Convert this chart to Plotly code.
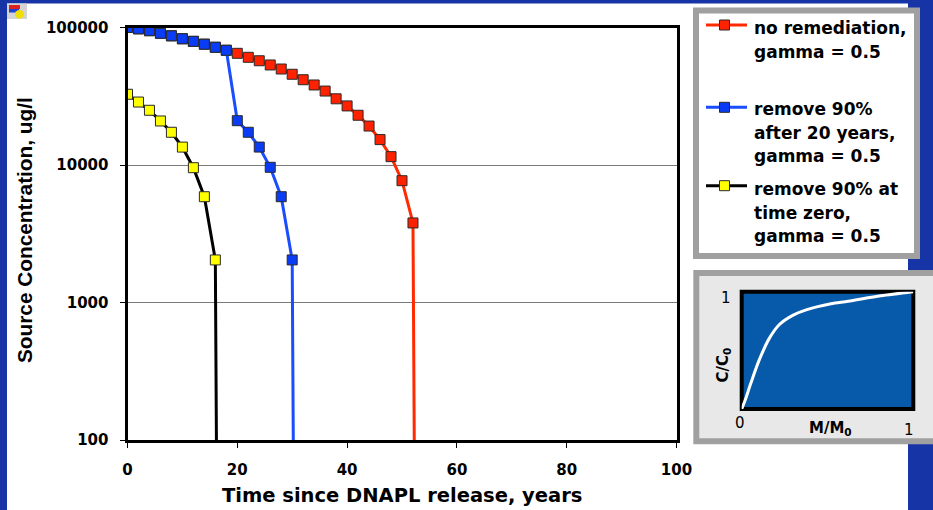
import plotly.graph_objects as go

W, H = 933, 510

# ---------------- data ----------------
years_no_rem = [0, 2, 4, 6, 8, 10, 12, 14, 16, 18, 20, 22, 24, 26, 28, 30, 32, 34,
                36, 38, 40, 42, 44, 46, 48, 50, 52, 54]
conc_no_rem = [100000, 97800, 94800, 90800, 87000, 82800, 79300, 75600, 71800, 68300,
               64900, 60700, 57300, 53400, 49900, 45700, 41700, 38200, 34500, 30300,
               26900, 23000, 19200, 15300, 11500, 7690, 3790, 1e-10]

years_rem20 = [0, 2, 4, 6, 8, 10, 12, 14, 16, 18, 20, 22, 24, 26, 28, 30, 32]
conc_rem20 = [100000, 97800, 94800, 90800, 87000, 82800, 79300, 75600, 71800, 68300,
              21000, 17300, 13500, 9620, 5880, 2040, 1e-10]

years_rem0 = [0, 2, 4, 6, 8, 10, 12, 14, 16, 18]
conc_rem0 = [32700, 28700, 25000, 20900, 17300, 13500, 9560, 5880, 2040, 1e-10]

x_ticks = [0, 20, 40, 60, 80, 100]
y_ticks = [100, 1000, 10000, 100000]
y_ticktext = ["100", "1000", "10000", "100000"]

legend_labels = [["no remediation,", "gamma = 0.5"],
                 ["remove 90%", "after 20 years,", "gamma = 0.5"],
                 ["remove 90% at", "time zero,", "gamma = 0.5"]]

inset_m = [0, 0.02, 0.05, 0.10, 0.16, 0.22, 0.30, 0.38, 0.52, 0.62, 0.81, 1.0]
inset_c = [0, 0.074, 0.206, 0.41, 0.60, 0.72, 0.80, 0.847, 0.897, 0.918, 0.965, 1.0]

# ---------------- styles ----------------
RED_LINE, RED_FILL = "#ff2a00", "#ff2200"
BLUE_LINE, BLUE_FILL = "#1a4dff", "#0a3cf5"
YEL_LINE, YEL_FILL = "#000000", "#ffff00"
SLIDE_BLUE = "#1634a6"
BOLD = dict(family="DejaVu Sans", color="black", weight="bold")


def px(x):
    return x / W


def py(y):
    return 1 - y / H


fig = go.Figure()

series = [
    (years_no_rem, conc_no_rem, RED_LINE, RED_FILL),
    (years_rem20, conc_rem20, BLUE_LINE, BLUE_FILL),
    (years_rem0, conc_rem0, YEL_LINE, YEL_FILL),
]
for xs, ys, lc, fc in series:
    fig.add_trace(go.Scatter(
        x=xs, y=ys, mode="lines+markers",
        line=dict(color=lc, width=3),
        marker=dict(symbol="square", size=10, color=fc,
                    line=dict(color="#2a2a2a", width=1)),
        showlegend=False, xaxis="x", yaxis="y"))

# inset curve
fig.add_trace(go.Scatter(
    x=inset_m, y=inset_c, mode="lines",
    line=dict(color="white", width=3, shape="spline", smoothing=0.8),
    showlegend=False, xaxis="x2", yaxis="y2"))

shapes = []
# white slide panel
shapes.append(dict(type="rect", xref="paper", yref="paper",
                   x0=px(7), x1=px(908), y0=py(510), y1=py(3.5),
                   fillcolor="white", line=dict(width=0), layer="below"))
# small icon top-left
shapes.append(dict(type="rect", xref="paper", yref="paper",
                   x0=px(7), x1=px(27), y0=py(19), y1=py(3.5),
                   fillcolor="#d4d4d4", line=dict(width=0), layer="below"))
shapes.append(dict(type="rect", xref="paper", yref="paper",
                   x0=px(9), x1=px(20), y0=py(9), y1=py(5),
                   fillcolor="#e02020", line=dict(width=0), layer="below"))
shapes.append(dict(type="rect", xref="paper", yref="paper",
                   x0=px(9), x1=px(19), y0=py(12.5), y1=py(9),
                   fillcolor="#2040d0", line=dict(width=0), layer="below"))
shapes.append(dict(type="circle", xref="paper", yref="paper",
                   x0=px(15), x1=px(24), y0=py(18.5), y1=py(10),
                   fillcolor="#f0e000", line=dict(width=0), layer="below"))
# legend box
shapes.append(dict(type="rect", xref="paper", yref="paper",
                   x0=px(696), x1=px(917), y0=py(256), y1=py(10.5),
                   fillcolor="white", line=dict(color="#a0a0a0", width=6), layer="below"))
# inset box
shapes.append(dict(type="rect", xref="paper", yref="paper",
                   x0=px(696.3), x1=px(945), y0=py(441.3), y1=py(273),
                   fillcolor="#e8e8e8", line=dict(color="#a0a0a0", width=6), layer="below"))
# inset plot background
shapes.append(dict(type="rect", xref="x2 domain", yref="y2 domain",
                   x0=0, x1=1, y0=0, y1=1,
                   fillcolor="#0759a9", line=dict(color="black", width=4), layer="below"))

annotations = []
# legend entries
sym_y = [25, 107.3, 185.7]
text_y0 = [28.3, 109.3, 189.3]
line_gap = 23.3
for (xs, ys, lc, fc), labels, sy, ty in zip(series, legend_labels, sym_y, text_y0):
    shapes.append(dict(type="line", xref="paper", yref="paper",
                       x0=px(706), x1=px(747), y0=py(sy), y1=py(sy),
                       line=dict(color=lc, width=3)))
    shapes.append(dict(type="rect", xref="paper", yref="paper",
                       x0=px(719.5), x1=px(729.5), y0=py(sy + 5), y1=py(sy - 5),
                       fillcolor=fc, line=dict(color="#2a2a2a", width=1)))
    for i, lab in enumerate(labels):
        annotations.append(dict(text=lab, xref="paper", yref="paper",
                                x=px(752), y=py(ty + i * line_gap),
                                xanchor="left", yanchor="middle", showarrow=False,
                                font=dict(size=17, **BOLD)))

# axis titles
annotations.append(dict(text="Time since DNAPL release, years", xref="paper", yref="paper",
                        x=px(402), y=py(495), xanchor="center", yanchor="middle",
                        showarrow=False, font=dict(size=19.5, **BOLD)))
annotations.append(dict(text="Source Concentration, ug/l", xref="paper", yref="paper",
                        x=px(25), y=py(230), xanchor="center", yanchor="middle",
                        textangle=-90, showarrow=False,
                        font=dict(family="Liberation Sans", size=20.8, color="black",
                                  weight="bold")))
# inset labels
small = dict(family="DejaVu Sans", size=15, color="black")
annotations.append(dict(text="1", xref="paper", yref="paper", x=px(725.5), y=py(298),
                        showarrow=False, xanchor="center", yanchor="middle", font=small))
annotations.append(dict(text="0", xref="paper", yref="paper", x=px(739.5), y=py(423),
                        showarrow=False, xanchor="center", yanchor="middle", font=small))
annotations.append(dict(text="1", xref="paper", yref="paper", x=px(909), y=py(430),
                        showarrow=False, xanchor="center", yanchor="middle", font=small))
annotations.append(dict(text="M/M<sub>0</sub>", xref="paper", yref="paper", x=px(830), y=py(428),
                        showarrow=False, xanchor="center", yanchor="middle",
                        font=dict(family="DejaVu Sans", size=15, color="black", weight="bold")))
annotations.append(dict(text="C/C<sub>0</sub>", xref="paper", yref="paper", x=px(722.5), y=py(365),
                        showarrow=False, xanchor="center", yanchor="middle", textangle=-90,
                        font=dict(family="DejaVu Sans", size=15, color="black", weight="bold")))

fig.update_layout(
    width=W, height=H,
    autosize=False,
    margin=dict(l=0, r=0, t=0, b=0, pad=0, autoexpand=False),
    paper_bgcolor=SLIDE_BLUE,
    plot_bgcolor="rgba(0,0,0,0)",
    shapes=shapes,
    annotations=annotations,
    xaxis=dict(domain=[px(127.5), px(676.5)], range=[0, 100], automargin=False,
               tickvals=x_ticks, ticks="outside", ticklen=5, tickwidth=1.2,
               tickcolor="black", showline=True, linewidth=3, linecolor="black",
               mirror=True, showgrid=False, zeroline=False,
               tickfont=dict(size=15, **BOLD), ticklabelstandoff=9),
    yaxis=dict(domain=[py(440), py(27.5)], type="log", range=[2, 5], automargin=False,
               tickvals=y_ticks, ticktext=y_ticktext, ticks="outside", ticklen=5,
               tickwidth=1.2, tickcolor="black", showline=True, linewidth=3,
               linecolor="black", mirror=True, showgrid=True, gridcolor="#7a7a7a",
               gridwidth=1.3, zeroline=False,
               tickfont=dict(size=15, **BOLD), ticklabelstandoff=8),
    xaxis2=dict(domain=[px(741.7), px(913.3)], range=[0, 1], visible=False,
                automargin=False, anchor="y2"),
    yaxis2=dict(domain=[py(409), py(291.7)], range=[0, 1], visible=False,
                automargin=False, anchor="x2"),
)

fig.write_html("out.html")
